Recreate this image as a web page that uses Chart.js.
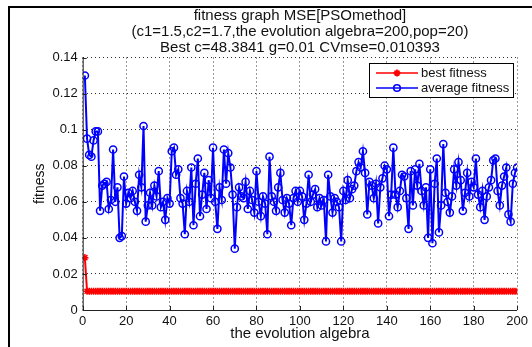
<!DOCTYPE html>
<html>
<head>
<meta charset="utf-8">
<script src="https://cdn.jsdelivr.net/npm/chart.js@4.4.1/dist/chart.umd.min.js"></script>
<style>
  html,body{margin:0;padding:0;background:#fff;}
  #wrap{width:532px;height:347px;position:relative;}
</style>
</head>
<body>
<div id="wrap"><canvas id="c" width="532" height="347"></canvas></div>
<script>
// ---------- data ----------
const titleLines = ["fitness graph MSE[PSOmethod]", "(c1=1.5,c2=1.7,the evolution algebra=200,pop=20)", "Best c=48.3841 g=0.01 CVmse=0.010393"];
const xLabel = "the evolution algebra";
const yLabel = "fitness";
const seriesNames = ["best fitness", "average fitness"];
const xTicks = [0, 20, 40, 60, 80, 100, 120, 140, 160, 180, 200];
const yTicks = [0, 0.02, 0.04, 0.06, 0.08, 0.1, 0.12, 0.14];
const yTickLabels = ["0", "0.02", "0.04", "0.06", "0.08", "0.1", "0.12", "0.14"];

const avgFitness = [
  0.130, 0.095, 0.086, 0.085, 0.094, 0.099, 0.099, 0.055, 0.069, 0.070,
  0.071, 0.056, 0.061, 0.089, 0.060, 0.068, 0.040, 0.041, 0.074, 0.059,
  0.065, 0.062, 0.066, 0.060, 0.055, 0.075, 0.068, 0.102, 0.049, 0.058,
  0.065, 0.058, 0.069, 0.063, 0.077, 0.057, 0.060, 0.050, 0.062, 0.059,
  0.088, 0.090, 0.075, 0.078, 0.062, 0.059, 0.042, 0.066, 0.060, 0.079,
  0.047, 0.070, 0.084, 0.052, 0.064, 0.076, 0.056, 0.072, 0.062, 0.090,
  0.060, 0.045, 0.068, 0.061, 0.089, 0.070, 0.087, 0.079, 0.064, 0.034,
  0.057, 0.068, 0.063, 0.062, 0.071, 0.056, 0.066, 0.061, 0.054, 0.077,
  0.060, 0.052, 0.063, 0.059, 0.042, 0.085, 0.063, 0.060, 0.055, 0.068,
  0.076, 0.061, 0.054, 0.062, 0.059, 0.047, 0.062, 0.066, 0.060, 0.066,
  0.063, 0.050, 0.059, 0.075, 0.060, 0.064, 0.067, 0.057, 0.062, 0.058,
  0.061, 0.038, 0.075, 0.063, 0.054, 0.062, 0.060, 0.057, 0.038, 0.066,
  0.061, 0.072, 0.062, 0.067, 0.069, 0.077, 0.082, 0.079, 0.088, 0.076,
  0.053, 0.071, 0.069, 0.062, 0.070, 0.048, 0.068, 0.073, 0.080, 0.078,
  0.052, 0.064, 0.090, 0.064, 0.057, 0.066, 0.075, 0.074, 0.062, 0.045,
  0.077, 0.058, 0.078, 0.069, 0.081, 0.066, 0.058, 0.068, 0.040, 0.078,
  0.037, 0.070, 0.084, 0.043, 0.058, 0.092, 0.065, 0.060, 0.054, 0.063,
  0.078, 0.069, 0.082, 0.072, 0.055, 0.065, 0.076, 0.063, 0.071, 0.068,
  0.084, 0.064, 0.057, 0.066, 0.050, 0.063, 0.068, 0.072, 0.083, 0.084,
  0.066, 0.058, 0.069, 0.074, 0.079, 0.053, 0.049, 0.070, 0.076, 0.079
];
const bestFitness = [0.029].concat(new Array(199).fill(0.0104));
const generations = avgFitness.map((_, i) => i + 1);

// ---------- helpers ----------
const FONT = '"Liberation Sans", Arial, sans-serif';
const toPts = arr => arr.map((v, i) => ({x: generations[i], y: v}));

const decorPlugin = {
  id: 'decor',
  afterDraw(chart) {
    const ctx = chart.ctx;
    const a = chart.chartArea;
    const xs = chart.scales.x, ys = chart.scales.y;
    ctx.save();
    // figure frame
    ctx.strokeStyle = '#000';
    ctx.lineWidth = 2;
    ctx.beginPath();
    ctx.moveTo(9, 347); ctx.lineTo(9, 7); ctx.lineTo(532, 7);
    ctx.stroke();
    // axis lines
    ctx.lineWidth = 1;
    ctx.strokeStyle = '#222';
    ctx.beginPath();
    ctx.moveTo(a.left + 0.5, a.top); ctx.lineTo(a.left + 0.5, a.bottom + 0.5); ctx.lineTo(a.right, a.bottom + 0.5);
    ctx.stroke();
    // inward tick marks
    ctx.beginPath();
    xTicks.forEach(t => { const px = Math.round(xs.getPixelForValue(t)) + 0.5; ctx.moveTo(px, a.bottom); ctx.lineTo(px, a.bottom - 4); });
    yTicks.forEach(t => { const py = Math.round(ys.getPixelForValue(t)) + 0.5; ctx.moveTo(a.left, py); ctx.lineTo(a.left + 4, py); });
    ctx.stroke();
    // title
    ctx.fillStyle = '#111';
    ctx.font = '15px ' + FONT;
    ctx.textAlign = 'center';
    ctx.textBaseline = 'middle';
    const cx = (a.left + a.right) / 2;
    titleLines.forEach((t, i) => ctx.fillText(t, cx, 15.5 + i * 16));
    // axis labels
    ctx.fillText(xLabel, cx, 334);
    ctx.save();
    ctx.font = '14px ' + FONT;
    ctx.translate(40, (a.top + a.bottom) / 2);
    ctx.rotate(-Math.PI / 2);
    ctx.fillText(yLabel, 0, 0);
    ctx.restore();
    // legend
    const lx = 369, ly = 63, lw = 144, lh = 34;
    ctx.fillStyle = '#fff';
    ctx.fillRect(lx, ly, lw, lh);
    ctx.strokeStyle = '#000';
    ctx.lineWidth = 1;
    ctx.strokeRect(lx + 0.5, ly + 0.5, lw, lh);
    const ds = chart.data.datasets;
    [ds[0], ds[1]].forEach((d, i) => {
      const yy = ly + 10 + i * 15;
      ctx.strokeStyle = d.borderColor;
      ctx.lineWidth = 1.5;
      ctx.beginPath(); ctx.moveTo(lx + 7, yy); ctx.lineTo(lx + 49, yy); ctx.stroke();
      const mx = lx + 28;
      if (i === 0) {
        ctx.lineWidth = 1.8;
        ctx.beginPath();
        for (let k = 0; k < 4; k++) {
          const ang = k * Math.PI / 4;
          ctx.moveTo(mx - 3.5 * Math.cos(ang), yy - 3.5 * Math.sin(ang));
          ctx.lineTo(mx + 3.5 * Math.cos(ang), yy + 3.5 * Math.sin(ang));
        }
        ctx.stroke();
      } else {
        ctx.lineWidth = 1.6;
        ctx.beginPath(); ctx.arc(mx, yy, 3.3, 0, Math.PI * 2); ctx.stroke();
      }
      ctx.fillStyle = '#111';
      ctx.font = '13px ' + FONT;
      ctx.textAlign = 'left';
      ctx.fillText(d.label, lx + 52, yy);
    });
    ctx.restore();
  }
};

new Chart(document.getElementById('c'), {
  type: 'line',
  data: {
    datasets: [
      {
        label: seriesNames[0],
        data: toPts(bestFitness),
        borderColor: '#ff0000',
        backgroundColor: '#ff0000',
        borderWidth: 2,
        pointStyle: 'star',
        pointRadius: 3.6,
        pointBorderWidth: 1.5,
        pointBorderColor: '#ff0000',
        tension: 0,
        order: 2
      },
      {
        label: seriesNames[1],
        data: toPts(avgFitness),
        borderColor: '#0000ff',
        backgroundColor: 'rgba(0,0,0,0)',
        borderWidth: 2,
        pointStyle: 'circle',
        pointRadius: 3.6,
        pointBorderWidth: 1.5,
        pointBorderColor: '#0000ff',
        pointBackgroundColor: 'rgba(255,255,255,0)',
        tension: 0,
        order: 1
      }
    ]
  },
  options: {
    responsive: false,
    animation: false,
    events: [],
    layout: { padding: { left: 0, right: 12, top: 57.5, bottom: 0 } },
    plugins: { legend: { display: false }, title: { display: false }, tooltip: { enabled: false } },
    scales: {
      x: {
        type: 'linear', min: 0, max: 200,
        afterBuildTicks: s => { s.ticks = xTicks.map(v => ({value: v})); },
        afterFit: s => { s.height = 37; },
        border: { display: false, dash: [1, 3] },
        grid: { color: '#333', lineWidth: 1, drawTicks: false },
        ticks: { padding: 4, color: '#111', font: { family: FONT, size: 13 }, maxRotation: 0 }
      },
      y: {
        type: 'linear', min: 0, max: 0.14,
        afterBuildTicks: s => { s.ticks = yTicks.map(v => ({value: v})); },
        afterFit: s => { s.width = 82.7; },
        border: { display: false, dash: [1, 3] },
        grid: { color: '#333', lineWidth: 1, drawTicks: false },
        ticks: { padding: 5, color: '#111', font: { family: FONT, size: 13 },
                 callback: (v) => { const i = yTicks.findIndex(t => Math.abs(t - v) < 1e-9); return i >= 0 ? yTickLabels[i] : ''; } }
      }
    }
  },
  plugins: [decorPlugin]
});
</script>
</body>
</html>
